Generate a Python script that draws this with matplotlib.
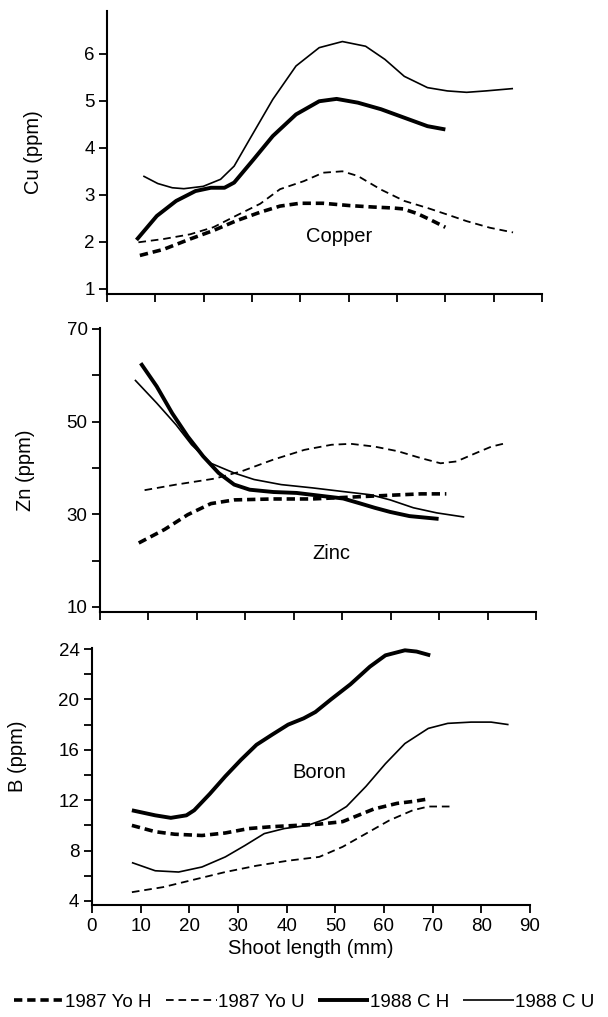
import matplotlib
matplotlib.use("Agg")
import matplotlib.pyplot as plt

plt.rcParams['font.family'] = ['Liberation Sans', 'DejaVu Sans']
plt.rcParams['lines.scale_dashes'] = False

# ---- Copper (Cu, ppm) ----
cu_yoh_x = [6.8, 11.7, 17.2, 22.0, 26.8, 31.7, 35.8, 39.9, 44.7, 50.3, 55.1, 59.1, 61.3, 64.2, 66.9, 70.0]
cu_yoh_y = [1.71, 1.84, 2.06, 2.24, 2.45, 2.63, 2.76, 2.82, 2.82, 2.77, 2.74, 2.72, 2.70, 2.60, 2.47, 2.31]
cu_you_x = [6.5, 11.7, 17.2, 22.0, 26.8, 31.7, 35.8, 40.7, 44.7, 48.7, 51.9, 56.7, 61.5, 66.3, 70.4, 74.4, 79.2, 84.0]
cu_you_y = [1.99, 2.06, 2.16, 2.31, 2.56, 2.81, 3.12, 3.29, 3.47, 3.50, 3.40, 3.11, 2.87, 2.72, 2.58, 2.44, 2.30, 2.20]
cu_ch_x = [6.1, 10.3, 14.3, 18.3, 21.5, 24.3, 26.3, 30.3, 34.3, 39.1, 43.9, 47.5, 51.9, 56.7, 61.5, 66.3, 70.0]
cu_ch_y = [2.04, 2.55, 2.87, 3.08, 3.15, 3.15, 3.26, 3.75, 4.25, 4.71, 4.99, 5.04, 4.96, 4.82, 4.64, 4.46, 4.39]
cu_cu_x = [7.5, 10.5, 13.5, 15.9, 19.9, 23.5, 26.3, 29.5, 34.3, 39.1, 43.9, 48.7, 53.5, 57.5, 61.5, 66.3, 70.4, 74.4, 78.4, 84.0]
cu_cu_y = [3.40, 3.24, 3.15, 3.13, 3.18, 3.33, 3.61, 4.18, 5.03, 5.74, 6.13, 6.26, 6.16, 5.88, 5.52, 5.28, 5.21, 5.18, 5.21, 5.26]

# ---- Zinc (Zn, ppm) ----
zn_yoh_x = [8.0, 13.3, 18.1, 22.9, 27.7, 35.8, 43.8, 51.8, 59.9, 66.3, 71.5]
zn_yoh_y = [23.8, 26.7, 29.9, 32.3, 33.1, 33.3, 33.3, 33.7, 34.1, 34.4, 34.4]
zn_you_x = [9.2, 15.7, 23.7, 29.3, 35.8, 42.2, 47.8, 51.8, 56.7, 61.5, 66.3, 70.3, 73.6, 77.6, 80.8, 84.0]
zn_you_y = [35.2, 36.4, 37.7, 39.3, 41.8, 43.9, 45.0, 45.2, 44.6, 43.6, 42.1, 41.0, 41.4, 43.2, 44.6, 45.4]
zn_ch_x = [8.4, 11.7, 14.9, 18.1, 21.3, 24.5, 27.7, 30.9, 35.8, 40.6, 45.4, 50.2, 53.5, 56.7, 59.9, 63.9, 69.9]
zn_ch_y = [62.6, 57.6, 51.8, 46.8, 42.5, 38.9, 36.4, 35.3, 34.8, 34.6, 34.0, 33.4, 32.4, 31.4, 30.5, 29.6, 29.0]
zn_cu_x = [7.2, 11.7, 15.7, 18.9, 22.9, 27.7, 31.8, 37.4, 43.8, 50.2, 55.9, 59.9, 64.7, 69.5, 75.2]
zn_cu_y = [59.0, 54.0, 49.3, 45.0, 41.0, 38.9, 37.5, 36.4, 35.7, 34.9, 34.2, 33.1, 31.4, 30.3, 29.4]

# ---- Boron (B, ppm) ----
b_yoh_x = [8.2, 13.0, 17.0, 22.6, 27.4, 32.2, 37.0, 41.9, 46.7, 51.5, 54.7, 57.9, 62.7, 65.9, 69.1]
b_yoh_y = [10.0, 9.5, 9.3, 9.2, 9.4, 9.75, 9.9, 10.0, 10.1, 10.3, 10.8, 11.3, 11.75, 11.9, 12.1]
b_you_x = [8.2, 14.6, 21.0, 27.4, 33.8, 40.3, 46.7, 51.5, 56.3, 61.1, 65.9, 69.1, 73.9]
b_you_y = [4.7, 5.1, 5.7, 6.3, 6.8, 7.2, 7.5, 8.3, 9.35, 10.4, 11.2, 11.5, 11.5]
b_ch_x = [8.2, 13.0, 16.2, 19.4, 21.0, 24.2, 27.4, 30.6, 33.8, 37.0, 40.3, 43.5, 45.9, 49.1, 53.1, 57.1, 60.3, 64.3, 66.7, 69.5]
b_ch_y = [11.2, 10.8, 10.6, 10.8, 11.2, 12.5, 13.9, 15.2, 16.4, 17.2, 18.0, 18.5, 19.0, 20.0, 21.2, 22.6, 23.5, 23.9, 23.8, 23.5]
b_cu_x = [8.2, 13.0, 17.8, 22.6, 27.4, 31.4, 35.4, 39.5, 44.3, 48.3, 52.3, 56.3, 60.3, 64.3, 69.1, 73.1, 77.9, 82.0, 85.6]
b_cu_y = [7.05, 6.4, 6.3, 6.7, 7.5, 8.4, 9.35, 9.75, 10.0, 10.55, 11.5, 13.1, 14.9, 16.5, 17.7, 18.1, 18.2, 18.2, 18.0]

series_labels = ["1987 Yo H", "1987 Yo U", "1988 C H", "1988 C U"]
x_ticks = list(range(0, 100, 10))

styles = [
    dict(color="black", lw=2.6, dashes=(6, 3.5)),   # 1987 Yo H
    dict(color="black", lw=1.3, dashes=(5.5, 3.5)),  # 1987 Yo U
    dict(color="black", lw=2.8),                     # 1988 C H
    dict(color="black", lw=1.2),                     # 1988 C U
]

fig = plt.figure(figsize=(6.08, 10.17), dpi=100)

panels = [
    dict(rect=[0.176, 0.7109, 0.7155, 0.2783], ylim=(0.89, 6.91),
         major=[1, 2, 3, 4, 5, 6], minor=[], ylabel="Cu (ppm)", lab_y=0.5,
         name="Copper", name_xy=(48, 2.12),
         data=[(cu_yoh_x, cu_yoh_y), (cu_you_x, cu_you_y), (cu_ch_x, cu_ch_y), (cu_cu_x, cu_cu_y)]),
    dict(rect=[0.1645, 0.3982, 0.717, 0.2793], ylim=(8.9, 70.2),
         major=[10, 30, 50, 70], minor=[20, 40, 60], ylabel="Zn (ppm)", lab_y=0.5,
         name="Zinc", name_xy=(47.8, 21.6),
         data=[(zn_yoh_x, zn_yoh_y), (zn_you_x, zn_you_y), (zn_ch_x, zn_ch_y), (zn_cu_x, zn_cu_y)]),
    dict(rect=[0.1513, 0.1101, 0.7204, 0.2527], ylim=(3.68, 24.08),
         major=[4, 8, 12, 16, 20, 24], minor=[6, 10, 14, 18, 22], ylabel="B (ppm)", lab_y=0.58,
         name="Boron", name_xy=(46.7, 14.2),
         data=[(b_yoh_x, b_yoh_y), (b_you_x, b_you_y), (b_ch_x, b_ch_y), (b_cu_x, b_cu_y)]),
]

handles = []
for i, p in enumerate(panels):
    ax = fig.add_axes(p["rect"])
    for (xs, ys), st, lab in zip(p["data"], styles, series_labels):
        ln, = ax.plot(xs, ys, label=lab, solid_capstyle="butt", dash_capstyle="butt", **st)
        if i == 0:
            handles.append(ln)
    ax.set_xlim(0, 90)
    ax.set_ylim(*p["ylim"])
    ax.set_xticks(x_ticks)
    ax.set_yticks(p["major"])
    ax.set_yticks(p["minor"], minor=True)
    for s in ["top", "right"]:
        ax.spines[s].set_visible(False)
    for s in ["left", "bottom"]:
        ax.spines[s].set_linewidth(1.5)
    ax.tick_params(which="both", direction="out", length=6, width=1.3, labelsize=13.5, pad=3)
    if i < 2:
        ax.tick_params(axis="x", labelbottom=False)
    ax.set_ylabel(p["ylabel"], fontsize=14.5)
    ax.yaxis.set_label_coords(-0.148, p["lab_y"])
    ax.text(*p["name_xy"], p["name"], fontsize=14.5, ha="center", va="center")
    if i == 2:
        ax.set_xlabel("Shoot length (mm)", fontsize=14.5, labelpad=3)

fig.legend(handles=handles, loc="center", bbox_to_anchor=(0.5, 1 - 1002 / 1017), ncol=4,
           frameon=False, fontsize=13.5, handlelength=2.7, handletextpad=0.05,
           columnspacing=0.75, borderaxespad=0, borderpad=0)

fig.savefig("out.png", dpi=100)
